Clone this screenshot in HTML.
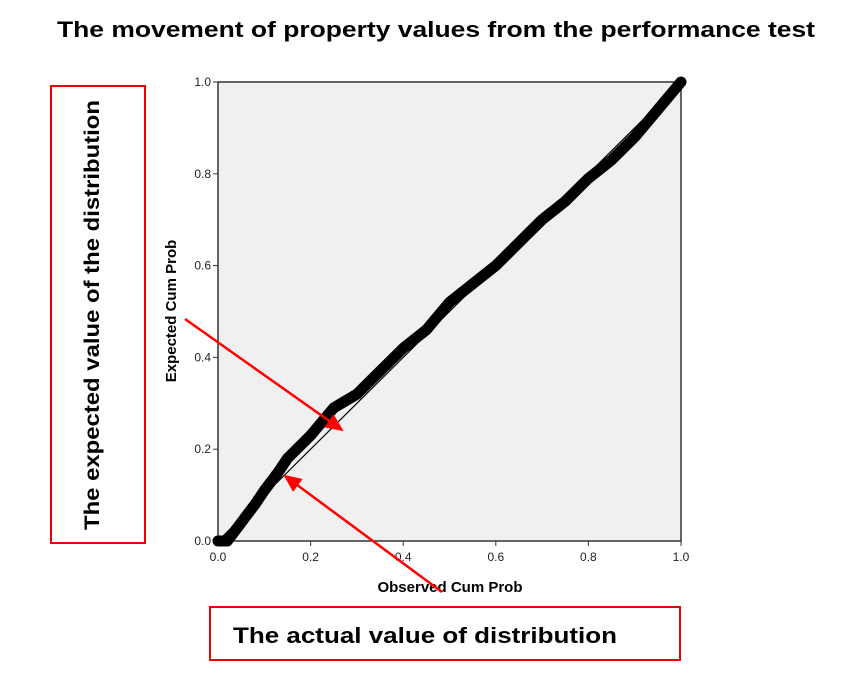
<!DOCTYPE html>
<html><head><meta charset="utf-8"><style>
body{margin:0;background:#fff;width:850px;height:691px;overflow:hidden;font-family:"Liberation Sans",sans-serif}
</style></head><body>
<svg width="850" height="691" xmlns="http://www.w3.org/2000/svg">
<text x="436" y="37" text-anchor="middle" font-size="22" font-weight="bold" fill="#000" textLength="758" lengthAdjust="spacingAndGlyphs">The movement of property values from the performance test</text>
<rect x="218" y="82" width="463" height="459" fill="#f0f0f0" stroke="#333" stroke-width="1.5"/>
<g id="axes"></g>
<g id="marks"></g>
<text x="450" y="592" text-anchor="middle" font-size="15" font-weight="bold">Observed Cum Prob</text>
<text transform="translate(176,311) rotate(-90)" text-anchor="middle" font-size="15" font-weight="bold">Expected Cum Prob</text>
<rect x="51" y="86" width="94" height="457" fill="none" stroke="#e00" stroke-width="2"/>
<text transform="translate(99,315) rotate(-90)" text-anchor="middle" font-size="21" font-weight="bold" textLength="430" lengthAdjust="spacingAndGlyphs">The expected value of the distribution</text>
<rect x="210" y="607" width="470" height="53" fill="none" stroke="#e00" stroke-width="2"/>
<text x="425" y="643" text-anchor="middle" font-size="22" font-weight="bold" textLength="384" lengthAdjust="spacingAndGlyphs">The actual value of distribution</text>
<defs><marker id="ah" markerWidth="8" markerHeight="8" refX="6" refY="4" orient="auto" markerUnits="userSpaceOnUse" viewBox="0 0 8 8"><path d="M0,0 L8,4 L0,8 z" fill="#f00"/></marker>
<marker id="ah2" markerWidth="18" markerHeight="16" refX="16" refY="8" orient="auto" markerUnits="userSpaceOnUse"><path d="M0,0 L18,8 L0,16 z" fill="#f00"/></marker></defs>
<line x1="185" y1="319" x2="342" y2="430" stroke="#f00" stroke-width="2.5" marker-end="url(#ah2)"/>
<line x1="442" y1="592" x2="285" y2="476" stroke="#f00" stroke-width="2.5" marker-end="url(#ah2)"/>
</svg>
<script>
const observed=[0,0.02,0.05,0.08,0.1,0.13,0.15,0.2,0.25,0.3,0.35,0.4,0.45,0.5,0.55,0.6,0.65,0.7,0.75,0.8,0.85,0.9,0.95,1];
const expected=[0,0,0.04,0.08,0.11,0.15,0.18,0.23,0.29,0.32,0.37,0.42,0.46,0.52,0.56,0.6,0.65,0.7,0.74,0.79,0.83,0.88,0.94,1];
const ticks=[0,0.2,0.4,0.6,0.8,1.0];
const tickLabels=["0.0","0.2","0.4","0.6","0.8","1.0"];
const NS="http://www.w3.org/2000/svg";
const sx=v=>218+v*463, sy=v=>541-v*459;
const ax=document.getElementById('axes'), mk=document.getElementById('marks');
function el(t,a,p){const e=document.createElementNS(NS,t);for(const k in a)e.setAttribute(k,a[k]);p.appendChild(e);return e;}
ticks.forEach((t,i)=>{
 let l=el('line',{x1:sx(t),x2:sx(t),y1:541,y2:546,stroke:'#333'},ax);
 
 
 let tx=el('text',{x:sx(t),y:561,'text-anchor':'middle','font-size':12,fill:'#222'},ax);tx.textContent=tickLabels[i];
 
 
 let l2=el('line',{x1:213,x2:218,y1:sy(t),y2:sy(t),stroke:'#333'},ax);
 
 
 let ty=el('text',{x:211,y:sy(t)+4,'text-anchor':'end','font-size':12,fill:'#222'},ax);ty.textContent=tickLabels[i];
 
 
});
let d=el('line',{x1:sx(0),y1:sy(0),x2:sx(1),y2:sy(1),stroke:'#000','stroke-width':1.2},mk);


let p=el('polyline',{points:observed.map((o,i)=>sx(o)+','+sy(expected[i])).join(' '),fill:'none',stroke:'#000','stroke-width':11,'stroke-linejoin':'round','stroke-linecap':'round'},mk);


</script>
</body></html>
